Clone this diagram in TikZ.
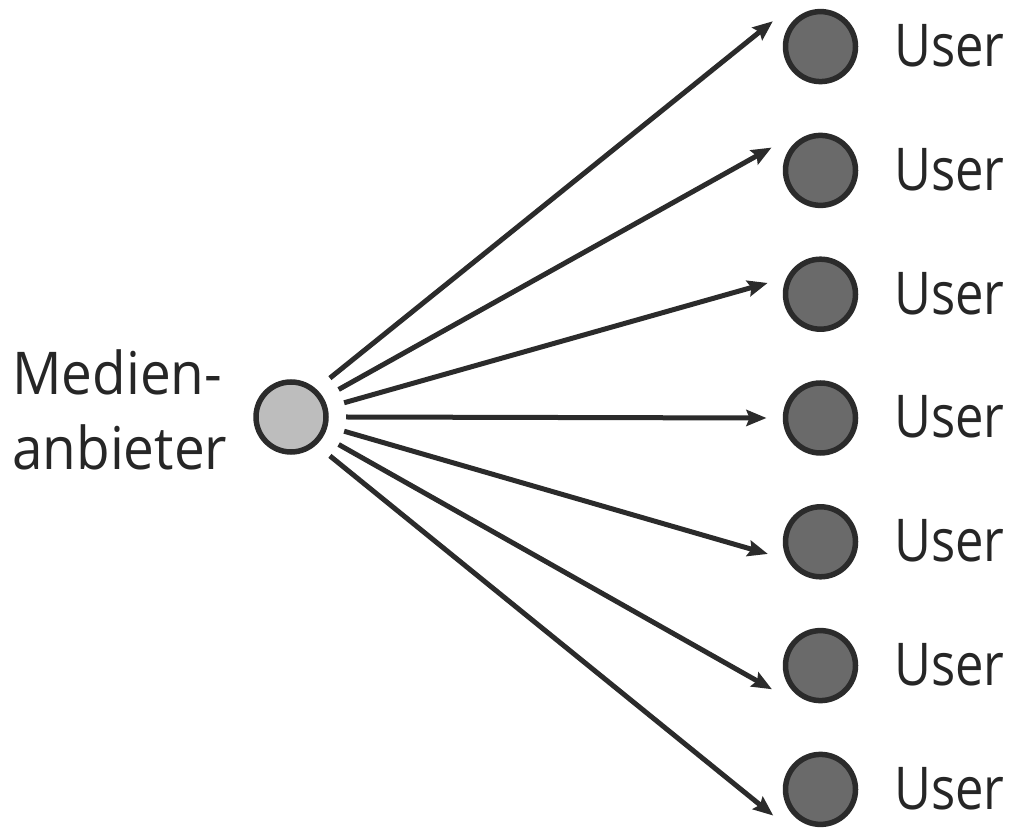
\documentclass[tikz,border=0pt]{standalone}
\usepackage{fontspec}
\setmainfont{Open Sans}
\newfontfamily\userfont[FakeStretch=0.86]{Open Sans}
\newfontfamily\srcfont[FakeStretch=0.93]{Open Sans}
\usetikzlibrary{arrows.meta,calc}
\definecolor{ink}{HTML}{2B2B2B}
\definecolor{srcfill}{HTML}{BDBDBD}
\definecolor{userfill}{HTML}{6A6A6A}
\definecolor{txt}{HTML}{262626}
\tikzset{
  dot/.style={circle,draw=ink,line width=5.5pt,minimum size=70pt,inner sep=0pt},
  srcdot/.style={dot,fill=srcfill},
  userdot/.style={dot,fill=userfill},
  lbl/.style={font=\fontsize{59}{75}\selectfont,text=txt,inner sep=0pt,anchor=base west},
  arr/.style={draw=ink,line width=5pt,-{Stealth[length=20pt,width=16pt,inset=3pt]}}
}
\begin{document}
\begin{tikzpicture}[x=1pt,y=1pt]
\useasboundingbox (0,0) rectangle (1016,827);
\node[srcdot] (c) at (291,410) {};
\node[lbl,align=left,font=\fontsize{59}{75}\selectfont\srcfont] (src) at (12,357) {Medien-\\anbieter};
\foreach \i/\y in {1/780.4,2/656.6,3/532.8,4/409,5/285.2,6/161.4,7/37.6}{
  \node[userdot] (u\i) at (820.5,\y) {};
  \node[lbl,font=\fontsize{59}{75}\selectfont\userfont] (t\i) at (894,\y-20) {User};
}
\foreach \i/\a/\b in {1/45/152,2/30/155,3/15/168,4/0/180,5/-15/193,6/-30/206,7/-45/209}{
  \draw[arr] ($(c)+(\a:55)$) -- ($(u\i)+(\b:54)$);
}
\end{tikzpicture}
\end{document}
